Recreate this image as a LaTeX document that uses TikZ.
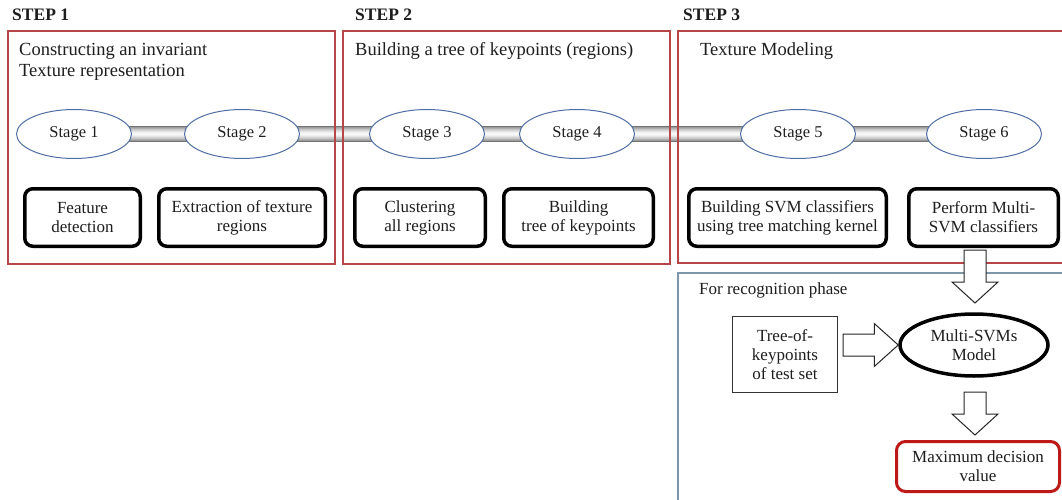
\documentclass[tikz,border=0pt]{standalone}
\usepackage{fontspec}
\setmainfont{Liberation Serif}
\usetikzlibrary{shapes.geometric,calc}
\definecolor{framered}{RGB}{185,70,70}
\definecolor{stageblue}{RGB}{80,110,165}
\definecolor{recblue}{RGB}{125,150,170}
\definecolor{maxred}{RGB}{190,25,25}
\definecolor{txt}{RGB}{30,30,30}
\newcommand\FTitle{\fontsize{18.5}{21}\selectfont}
\newcommand\FStage{\fontsize{16.5}{19}\selectfont}
\newcommand\FBox{\fontsize{17}{19}\selectfont}
\newcommand\FStep{\fontsize{17.5}{20}\selectfont\bfseries}
\newcommand\DownBlock[2]{\draw[barrow] ($(#1)+(-11,0)$) -- ($(#2)+(-11,-21)$) -- ($(#2)+(-23,-21)$) -- (#2) -- ($(#2)+(23,-21)$) -- ($(#2)+(11,-21)$) -- ($(#1)+(11,0)$) -- cycle;}
\begin{document}
\begin{tikzpicture}[x=1pt,y=-1pt,
  every node/.style={text=txt},
  frame/.style={draw=framered,line width=1.4},
  recframe/.style={draw=recblue,line width=1.4},
  stagenode/.style={ellipse,draw=stageblue,line width=1,fill=white,minimum width=115,minimum height=49,inner sep=0,font=\FStage},
  taskbox/.style={draw=black,line width=3.5,rounded corners=8,fill=white,minimum height=57.5,align=center,font=\FBox,inner sep=2},
  barrow/.style={draw=black!85,line width=1,fill=white},
  title/.style={anchor=base west,font=\FTitle,inner sep=0},
  steplabel/.style={anchor=base west,font=\FStep,inner sep=0},
]
\useasboundingbox (0,0) rectangle (1062,500);
\clip (0,0) rectangle (1062,500);
\fill[white] (0,0) rectangle (1062,500);

% stage centres
\coordinate (c1) at (74,134);
\coordinate (c2) at (242,134);
\coordinate (c3) at (427,134);
\coordinate (c4) at (577,134);
\coordinate (c5) at (798,134);
\coordinate (c6) at (984,134);

% tube (cylinder look: grey edges, white centre)
\foreach \i in {0,...,29}{
  \pgfmathsetmacro\lev{int(round(3+45*(abs(\i-14.5)/14.5)^1.5))}
  \fill[black!\lev] ($(c1)+(0,-7.5+0.5*\i)$) rectangle ($(c6)+(0,-7+0.5*\i)$);
}
\draw[gray!90!black,line width=0.7] ($(c1)+(0,-7.5)$) -- ($(c6)+(0,-7.5)$);
\draw[gray!90!black,line width=0.7] ($(c1)+(0,7.5)$) -- ($(c6)+(0,7.5)$);

% frames
\draw[frame] (8,31) rectangle (335,264);
\draw[frame] (343,31) rectangle (670,264);
\draw[frame] (678,31) rectangle (1072,263);
\draw[recframe] (678,273) rectangle (1072,512);

% step labels
\node[steplabel] (st1) at (12,21) {STEP 1};
\node[steplabel] (st2) at (355,21) {STEP 2};
\node[steplabel] (st3) at (683,21) {STEP 3};

% titles
\node[title] (t1) at (19,56) {Constructing an invariant};
\node[title] (t1b) at (19,77) {Texture representation};
\node[title] (t2) at (355,56) {Building a tree of keypoints (regions)};
\node[title] (t3) at (700,56) {Texture Modeling};
\node[title,font=\FBox] (t4) at (699,294) {For recognition phase};

% stages
\node[stagenode] (s1) at (c1) {Stage 1};
\node[stagenode] (s2) at (c2) {Stage 2};
\node[stagenode] (s3) at (c3) {Stage 3};
\node[stagenode] (s4) at (c4) {Stage 4};
\node[stagenode] (s5) at (c5) {Stage 5};
\node[stagenode] (s6) at (c6) {Stage 6};

% task boxes
\node[taskbox,minimum width=115.5] (b1) at (82.5,217.5) {Feature\\detection};
\node[taskbox,minimum width=166.5] (b2) at (242,217.5) {Extraction of texture\\regions};
\node[taskbox,minimum width=130.5] (b3) at (420,217.5) {Clustering\\all regions};
\node[taskbox,minimum width=149.5] (b4) at (578.5,217.5) {Building\\tree of keypoints};
\node[taskbox,minimum width=197.5] (b5) at (787.5,217.5) {Building SVM classifiers\\using tree matching kernel};
\node[taskbox,minimum width=149.5] (b6) at (983.5,217.5) {Perform Multi-\\SVM classifiers};

% recognition phase
\node[draw=black!80,line width=1,minimum width=105,minimum height=76,align=center,font=\FBox,inner sep=2] (tree) at (785,354.5) {Tree-of-\\keypoints\\of test set};
\node[ellipse,draw=black,line width=3.5,minimum width=148,minimum height=62,align=center,font=\FBox,inner sep=0] (multi) at (974,345) {Multi-SVMs\\Model};
\node[draw=maxred,line width=3,rounded corners=9,minimum width=163,minimum height=50,align=center,font=\FBox,inner sep=2] (maxv) at (978,466.5) {Maximum decision\\value};

% block arrows
\coordinate (a1s) at (975,250);
\coordinate (a1e) at (975,303);
\DownBlock{a1s}{a1e}
\coordinate (a2s) at (975,392);
\coordinate (a2e) at (975,435);
\DownBlock{a2s}{a2e}
\coordinate (a3s) at (843,345);
\draw[barrow] ($(a3s)+(0,-11)$) -- ($(multi.west)+(-24,-11)$) -- ($(multi.west)+(-24,-21.5)$) -- (multi.west) -- ($(multi.west)+(-24,21.5)$) -- ($(multi.west)+(-24,11)$) -- ($(a3s)+(0,11)$) -- cycle;
\end{tikzpicture}
\end{document}
